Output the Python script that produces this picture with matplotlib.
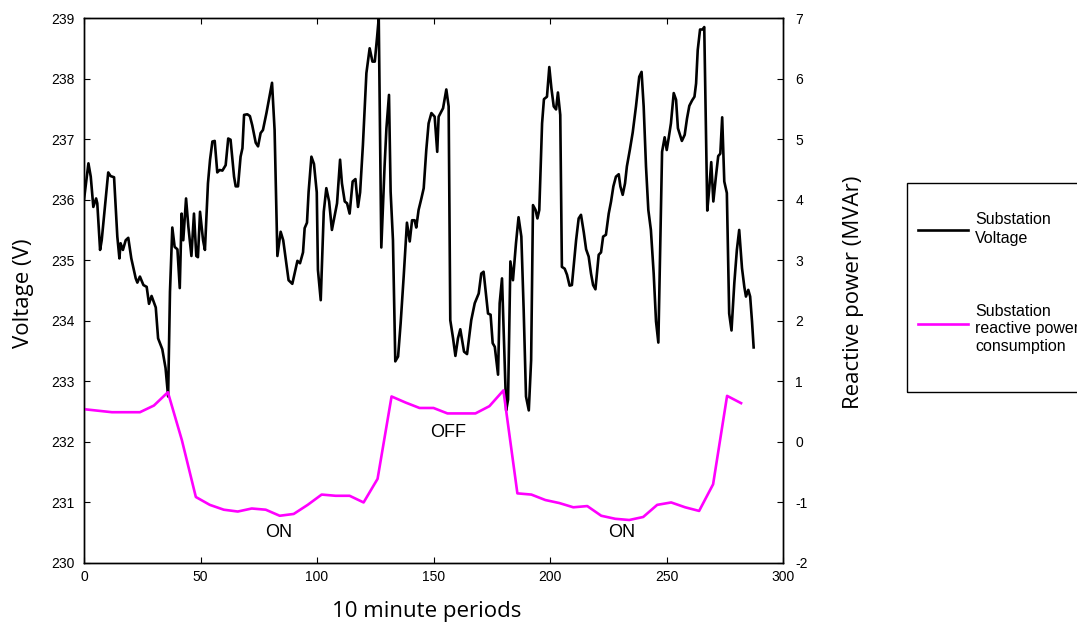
import matplotlib
matplotlib.use("Agg")
import matplotlib.pyplot as plt
from matplotlib.patches import Rectangle
from matplotlib.lines import Line2D

plt.rcParams["axes.unicode_minus"] = False

# ---- data: substation voltage (V) vs 10-minute period ----
volt_t = [0, 1.9, 2.9, 4, 5.2, 5.7, 6.9, 7.6, 10.4, 11.4, 12.9, 14.3, 15.2, 15.7, 16.7, 17.9, 19,
          20.3, 22.2, 22.9, 24, 25.5, 26.9, 27.9, 29, 30.8, 31.8, 33.6, 35, 36.1, 36.9, 37.9, 38.9,
          40.1, 41.1, 41.9, 42.6, 43.8, 44.8, 46.1, 47.2, 48.2, 48.9, 49.8, 51.1, 51.9, 53.2, 54.1,
          55.1, 56.1, 57.2, 58.2, 59.4, 60.8, 61.9, 62.9, 64.4, 65.1, 66.1, 67.2, 68, 68.7, 70.1,
          71.2, 72.2, 73.7, 74.7, 75.8, 76.8, 78.3, 80.7, 81.8, 83, 84.4, 85.5, 87.8, 89.4, 90.4,
          91.6, 92.7, 94, 94.7, 95.7, 96.4, 97.6, 98.7, 99.9, 100.4, 101.6, 102.9, 104, 105.2,
          106.4, 108.6, 109.9, 110.7, 111.9, 112.9, 114, 115.3, 116.5, 117.6, 118.5, 119.7, 121.2,
          122.6, 123.8, 124.8, 125.8, 126.5, 127.6, 129, 129.8, 130.9, 131.6, 132.6, 133.6, 134.8,
          135.9, 137.2, 138.6, 139.8, 140.8, 141.9, 142.6, 143.6, 144.8, 145.8, 146.9, 147.9,
          149.1, 150.5, 151.6, 152.2, 154.1, 155.5, 156.5, 157.2, 158.4, 159.4, 160.5, 161.5,
          163.1, 164.4, 166.2, 167.7, 169.4, 170.5, 171.5, 172.5, 173.4, 174.5, 175.4, 176.3,
          177.7, 178.4, 179.4, 180.3, 181.2, 182, 183, 184.1, 185.4, 186.5, 187.7, 188.7, 189.7,
          190.9, 191.9, 192.7, 193.8, 194.6, 195.4, 196.6, 197.4, 198.7, 199.7, 200.6, 201.6,
          202.6, 203.4, 204.4, 205.1, 206.3, 207.3, 208.4, 209.4, 211.2, 212.3, 213.3, 214.5,
          215.5, 216.6, 217.6, 218.5, 219.5, 220.9, 221.9, 222.8, 224, 225.2, 226.2, 227.2, 228.3,
          229.5, 230.2, 231.2, 232.2, 233, 234.3, 235.5, 236.9, 238.3, 239.3, 240.2, 241.2, 242.2,
          243.3, 244.5, 245.5, 246.5, 247.2, 248.1, 249.2, 250.1, 250.9, 251.9, 253.1, 254.1,
          254.9, 256.6, 257.8, 258.8, 259.8, 261, 262, 262.7, 263.4, 264.4, 265.5, 266.2, 266.9,
          267.5, 268.3, 269.2, 270.1, 271.2, 272.2, 273.1, 273.9, 274.8, 275.9, 276.9, 277.9,
          279.1, 280.2, 281.2, 282.4, 283.4, 284.1, 285.1, 285.9, 286.7, 287.4]
volt_v = [236.0, 236.6, 236.38, 235.88, 236.02, 235.94, 235.17, 235.33, 236.45, 236.39, 236.37,
          235.39, 235.03, 235.28, 235.17, 235.33, 235.37, 235.03, 234.7, 234.63, 234.73, 234.59,
          234.56, 234.28, 234.41, 234.22, 233.71, 233.53, 233.22, 232.75, 234.48, 235.54, 235.22,
          235.18, 234.54, 235.77, 235.33, 236.02, 235.55, 235.07, 235.77, 235.07, 235.05, 235.8,
          235.33, 235.17, 236.27, 236.66, 236.96, 236.97, 236.45, 236.49, 236.48, 236.57, 237.01,
          236.99, 236.38, 236.22, 236.22, 236.71, 236.85, 237.4, 237.41, 237.38, 237.23, 236.94,
          236.88, 237.1, 237.15, 237.43, 237.93, 237.15, 235.07, 235.47, 235.33, 234.67, 234.61,
          234.78, 234.99, 234.95, 235.13, 235.53, 235.62, 236.13, 236.71, 236.59, 236.12, 234.84,
          234.34, 235.8, 236.19, 235.97, 235.5, 235.94, 236.66, 236.27, 235.97, 235.94, 235.77,
          236.3, 236.34, 235.88, 236.12, 236.9, 238.09, 238.5, 238.28, 238.28, 238.69, 239.0,
          235.21, 236.55, 237.18, 237.73, 236.13, 235.33, 233.33, 233.41, 233.96, 234.73, 235.62,
          235.31, 235.66, 235.66, 235.54, 235.83, 236.02, 236.19, 236.82, 237.26, 237.43, 237.37,
          236.79, 237.37, 237.51, 237.82, 237.54, 234.01, 233.71, 233.42, 233.71, 233.86, 233.49,
          233.45, 234.01, 234.29, 234.45, 234.78, 234.81, 234.45, 234.12, 234.1, 233.63, 233.57,
          233.11, 234.29, 234.7, 233.63, 232.52, 232.7, 234.98, 234.67, 235.28, 235.71, 235.39,
          234.18, 232.75, 232.52, 233.35, 235.91, 235.83, 235.69, 235.83, 237.26, 237.66, 237.7,
          238.19, 237.84, 237.54, 237.49, 237.77, 237.4, 234.89, 234.86, 234.76, 234.58, 234.59,
          235.33, 235.69, 235.75, 235.46, 235.18, 235.06, 234.78, 234.59, 234.52, 235.09, 235.13,
          235.39, 235.42, 235.77, 235.97, 236.22, 236.38, 236.42, 236.22, 236.08, 236.27, 236.55,
          236.83, 237.11, 237.54, 238.03, 238.11, 237.54, 236.55, 235.83, 235.5, 234.78, 233.99,
          233.64, 235.06, 236.79, 237.03, 236.82, 237.01, 237.26, 237.76, 237.65, 237.18, 236.97,
          237.07, 237.34, 237.55, 237.64, 237.7, 237.92, 238.47, 238.81, 238.81, 238.85, 237.26,
          235.82, 236.16, 236.62, 235.97, 236.38, 236.72, 236.76, 237.36, 236.3, 236.11, 234.12,
          233.84, 234.62, 235.17, 235.5, 234.87, 234.56, 234.4, 234.51, 234.4, 233.99, 233.56]

# ---- data: substation reactive power consumption (MVAr) ----
q_t = [0, 12, 24, 30, 36, 42, 48, 54, 60, 66, 72, 78, 84, 90, 96, 102, 108, 114, 120, 126, 132,
       138, 144, 150, 156, 168, 174, 180, 186, 192, 198, 204, 210, 216, 222, 228, 234, 240, 246,
       252, 258, 264, 270, 276, 282]
q_v = [0.54, 0.49, 0.49, 0.60, 0.82, 0.03, -0.91, -1.04, -1.12, -1.15, -1.10, -1.12, -1.22,
       -1.19, -1.04, -0.87, -0.89, -0.89, -1.00, -0.61, 0.75, 0.65, 0.56, 0.56, 0.47, 0.47, 0.59,
       0.85, -0.85, -0.87, -0.96, -1.01, -1.08, -1.06, -1.22, -1.27, -1.29, -1.24, -1.04, -1.00,
       -1.08, -1.14, -0.70, 0.76, 0.64]

x_ticks = [0, 50, 100, 150, 200, 250, 300]
v_ticks = [230, 231, 232, 233, 234, 235, 236, 237, 238, 239]
q_ticks = [-2, -1, 0, 1, 2, 3, 4, 5, 6, 7]

annotations = [("ON", 83.7, 230.51), ("OFF", 156.2, 232.15), ("ON", 230.9, 230.51)]
legend_labels = ["Substation\nVoltage", "Substation\nreactive power\nconsumption"]

W, H = 1077, 626
fig = plt.figure(figsize=(W / 100, H / 100), dpi=100)
ax = fig.add_axes([84 / W, 1 - 563 / H, (783 - 84) / W, (563 - 18) / H])
ax2 = ax.twinx()

tick_font = "Liberation Sans"
ax.plot(volt_t, volt_v, color="black", lw=1.9, zorder=3)
ax2.plot(q_t, q_v, color="#ff00ff", lw=1.9)

ax.set_xlim(0, 300)
ax.set_ylim(230, 239)
ax2.set_ylim(-2, 7)
ax.set_xticks(x_ticks)
ax.set_yticks(v_ticks)
ax2.set_yticks(q_ticks)

for a in (ax, ax2):
    for s in a.spines.values():
        s.set_linewidth(1.0)
ax.tick_params(axis="x", direction="in", length=4.5, width=0.8, top=True, pad=5)
ax.tick_params(axis="y", direction="in", length=4.5, width=0.8, pad=7)
ax2.tick_params(axis="y", direction="in", length=4.5, width=0.8, pad=9)
for lab in ax.get_xticklabels() + ax.get_yticklabels() + ax2.get_yticklabels():
    lab.set_fontfamily(tick_font)
    lab.set_fontsize(10)

for txt, tx, ty in annotations:
    ax.text(tx, ty, txt, ha="center", va="center", fontsize=13, family=tick_font)

label_font = "Open Sans"
fig.text(427 / W, 1 - 612 / H, "10 minute periods", ha="center", va="center",
         fontsize=16, family=label_font)
fig.text(24 / W, 1 - 293 / H, "Voltage (V)", ha="center", va="center", rotation=90,
         fontsize=16, family=label_font)
fig.text(853 / W, 1 - 292 / H, "Reactive power (MVAr)", ha="center", va="center",
         rotation=90, fontsize=16, family=label_font)

# legend box (extends past the right edge of the figure, as in the reference)
fig.add_artist(Rectangle((907 / W, 1 - 392 / H), 220 / W, 209 / H, transform=fig.transFigure,
                         fill=False, edgecolor="black", lw=1.0))
fig.add_artist(Line2D([918 / W, 968 / W], [1 - 230 / H, 1 - 230 / H], transform=fig.transFigure,
                      color="black", lw=1.9))
fig.add_artist(Line2D([918 / W, 968 / W], [1 - 324 / H, 1 - 324 / H], transform=fig.transFigure,
                      color="#ff00ff", lw=1.9))
fig.text(975 / W, 1 - 229 / H, legend_labels[0], ha="left", va="center", fontsize=11.5,
         family=tick_font, linespacing=1.35)
fig.text(975 / W, 1 - 329 / H, legend_labels[1], ha="left", va="center", fontsize=11.5,
         family=tick_font, linespacing=1.25)

fig.savefig("out.png", dpi=100)
